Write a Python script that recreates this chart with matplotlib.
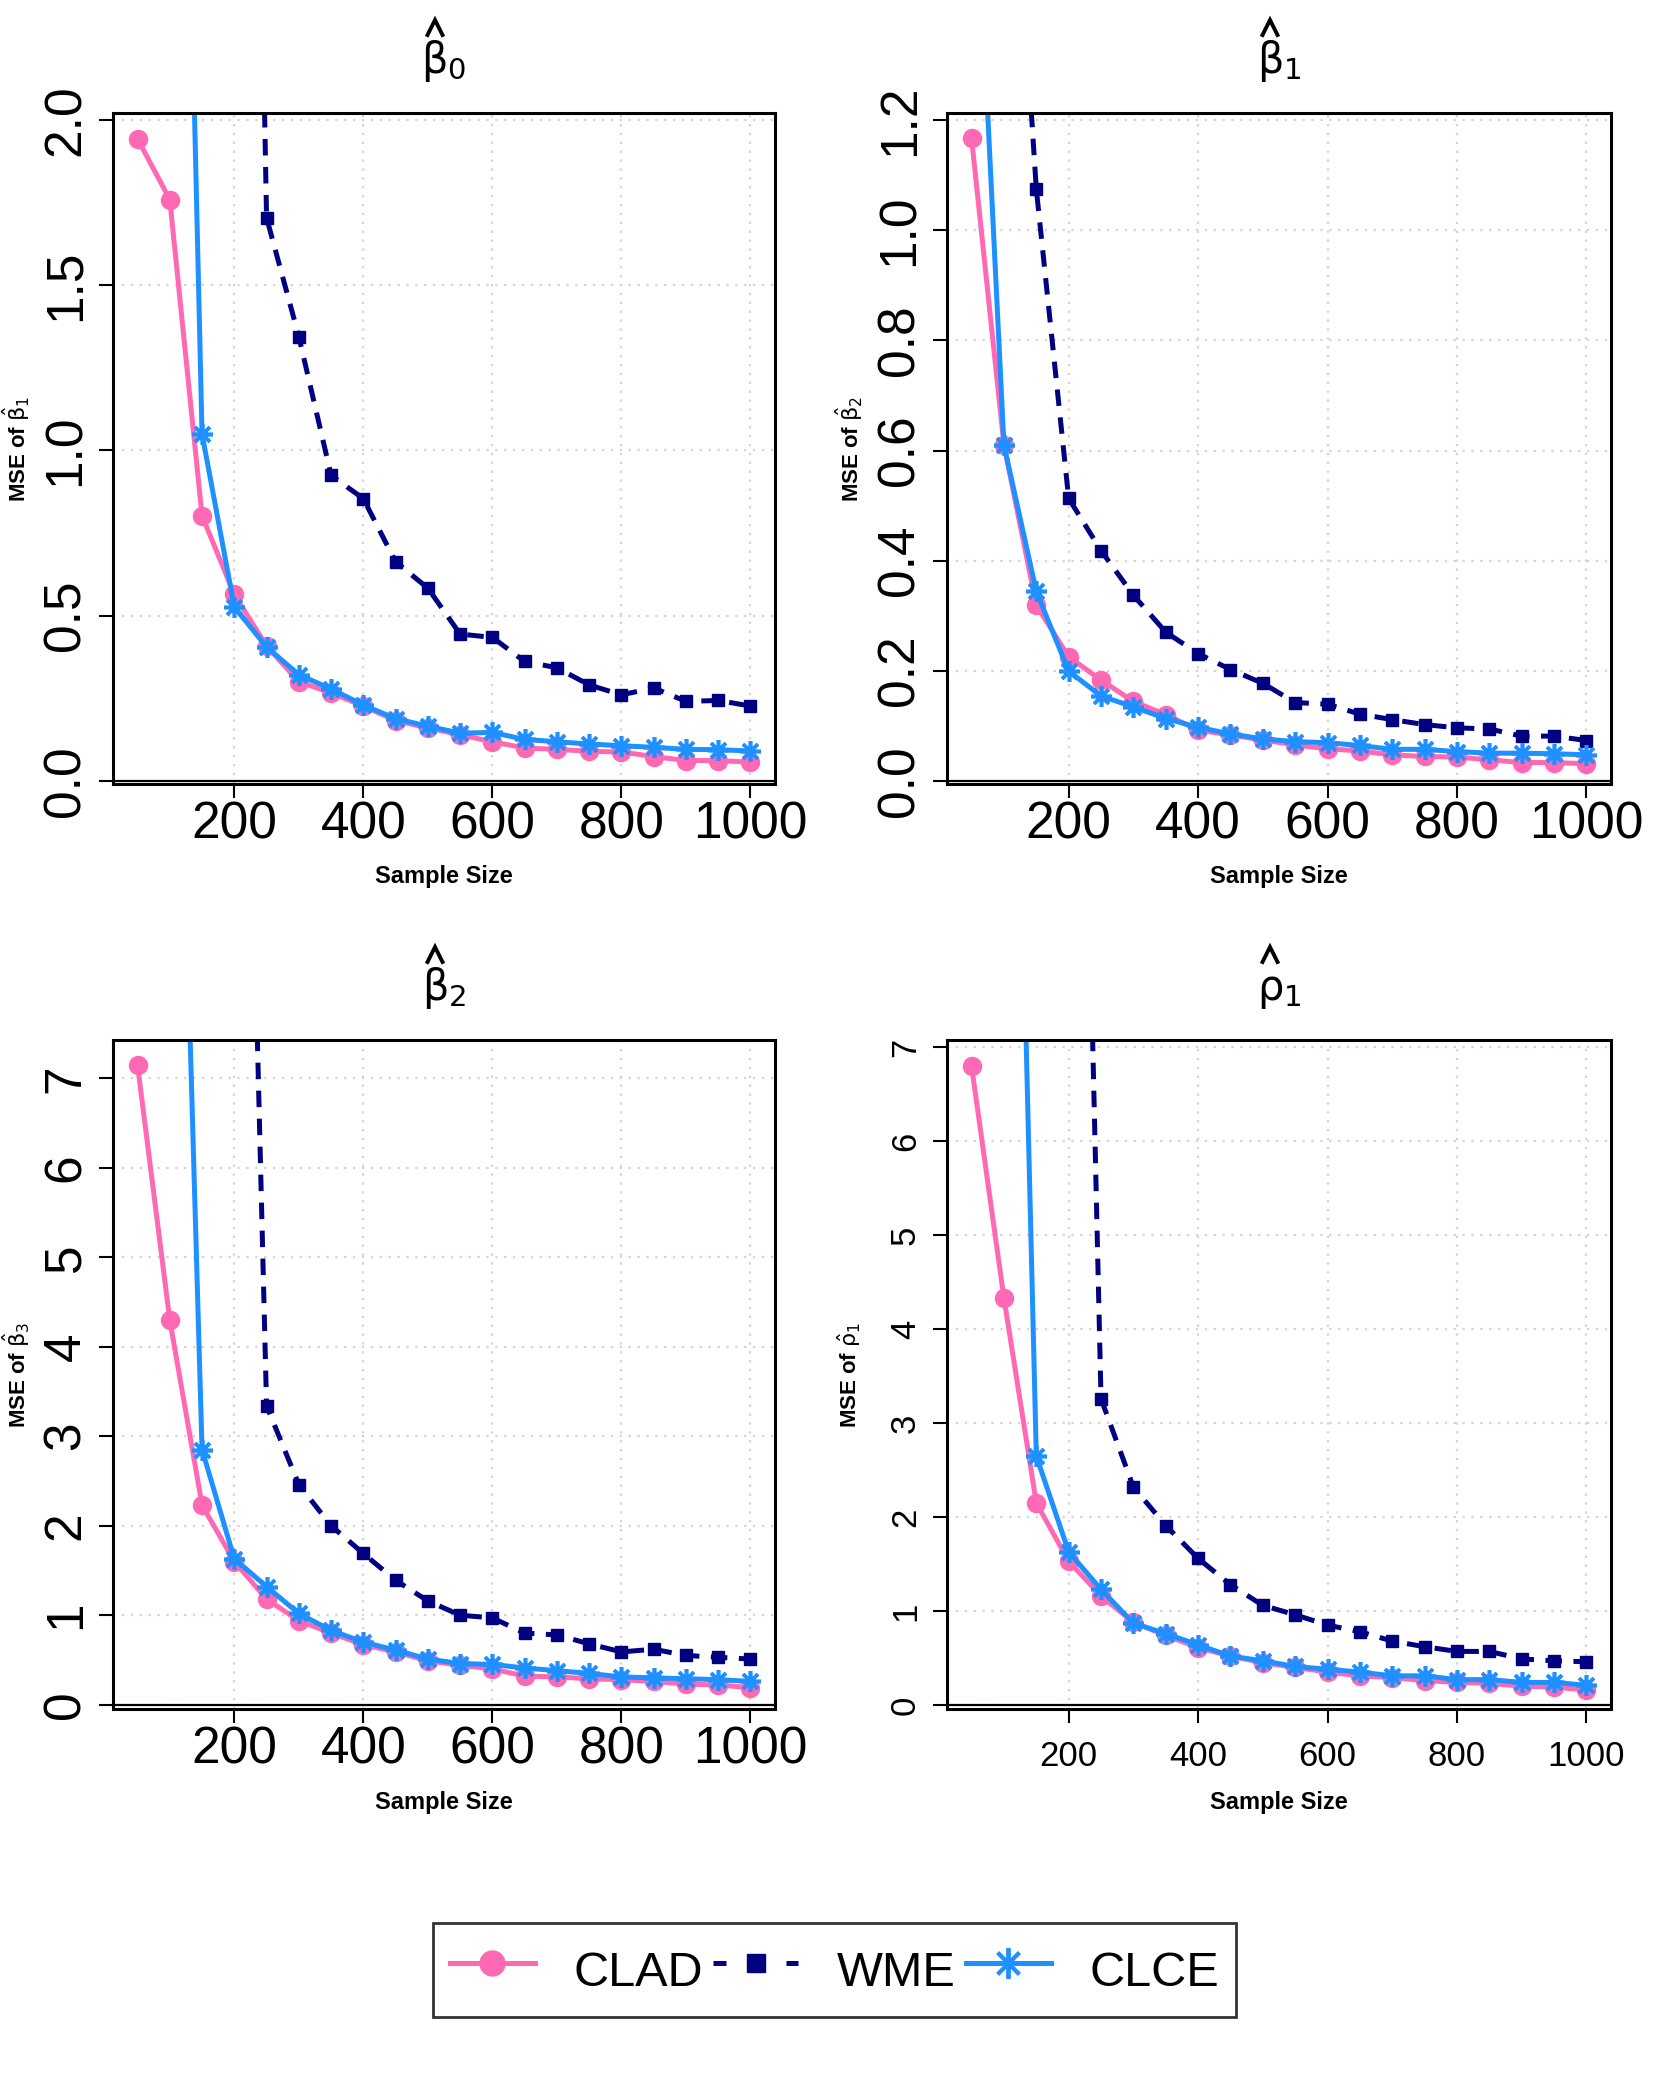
import matplotlib
matplotlib.use("Agg")
import matplotlib.pyplot as plt
from matplotlib.lines import Line2D
from matplotlib.transforms import ScaledTranslation

plt.rcParams['font.family'] = ['Liberation Sans', 'DejaVu Sans']
plt.rcParams['mathtext.fontset'] = 'dejavusans'

# sample sizes
n = [50, 100, 150, 200, 250, 300, 350, 400, 450, 500,
     550, 600, 650, 700, 750, 800, 850, 900, 950, 1000]

# beta0 panel
clad_b0 = [1.944, 1.760, 0.802, 0.564, 0.408, 0.300, 0.266, 0.226, 0.182, 0.160,
           0.139, 0.118, 0.099, 0.095, 0.089, 0.087, 0.073, 0.061, 0.061, 0.056]
wme_b0 = [40.0, 20.0, 12.0, 6.9, 1.705, 1.345, 0.925, 0.854, 0.663, 0.583,
          0.444, 0.434, 0.361, 0.342, 0.290, 0.260, 0.281, 0.240, 0.243, 0.226]
clce_b0 = [9.0, 5.2, 1.050, 0.526, 0.405, 0.321, 0.278, 0.229, 0.188, 0.165,
           0.144, 0.146, 0.125, 0.118, 0.111, 0.106, 0.101, 0.095, 0.094, 0.090]

# beta1 panel
clad_b1 = [1.167, 0.610, 0.319, 0.225, 0.183, 0.144, 0.120, 0.092, 0.083, 0.074,
           0.065, 0.058, 0.054, 0.047, 0.044, 0.043, 0.038, 0.033, 0.033, 0.031]
wme_b1 = [4.0, 1.98, 1.075, 0.513, 0.418, 0.337, 0.270, 0.231, 0.202, 0.177,
          0.142, 0.139, 0.121, 0.111, 0.102, 0.096, 0.094, 0.081, 0.081, 0.073]
clce_b1 = [1.81, 0.610, 0.344, 0.199, 0.154, 0.134, 0.113, 0.097, 0.085, 0.076,
           0.071, 0.069, 0.064, 0.057, 0.057, 0.053, 0.050, 0.050, 0.049, 0.047]

# beta2 panel
clad_b2 = [7.15, 4.30, 2.23, 1.60, 1.18, 0.94, 0.80, 0.67, 0.59, 0.49,
           0.44, 0.40, 0.32, 0.31, 0.29, 0.28, 0.26, 0.23, 0.22, 0.19]
wme_b2 = [100.0, 60.0, 35.0, 17.7, 3.34, 2.46, 2.00, 1.69, 1.39, 1.16,
          1.00, 0.97, 0.80, 0.78, 0.68, 0.59, 0.62, 0.55, 0.53, 0.51]
clce_b2 = [30.0, 15.3, 2.85, 1.63, 1.32, 1.02, 0.83, 0.70, 0.61, 0.51,
           0.46, 0.45, 0.41, 0.38, 0.35, 0.31, 0.30, 0.29, 0.28, 0.26]

# rho1 panel
clad_r1 = [6.80, 4.33, 2.15, 1.53, 1.16, 0.88, 0.74, 0.61, 0.52, 0.45,
           0.40, 0.35, 0.31, 0.29, 0.26, 0.24, 0.23, 0.20, 0.19, 0.16]
wme_r1 = [100.0, 60.0, 35.0, 18.0, 3.26, 2.32, 1.91, 1.56, 1.28, 1.06,
          0.96, 0.85, 0.78, 0.68, 0.62, 0.57, 0.57, 0.49, 0.47, 0.46]
clce_r1 = [30.0, 16.7, 2.65, 1.63, 1.23, 0.87, 0.76, 0.64, 0.52, 0.47,
           0.41, 0.38, 0.35, 0.31, 0.31, 0.27, 0.27, 0.24, 0.24, 0.21]

xticks = [200, 400, 600, 800, 1000]
yticks_b0 = [0.0, 0.5, 1.0, 1.5, 2.0]
yticks_b1 = [0.0, 0.2, 0.4, 0.6, 0.8, 1.0, 1.2]
yticks_big = [0, 1, 2, 3, 4, 5, 6, 7]

W, H = 1669, 2086
fig = plt.figure(figsize=(W / 100, H / 100), dpi=100)

PINK, NAVY, BLUE = 'hotpink', 'navy', 'dodgerblue'


def panel(box, clad, wme, clce, yticks, ylabels, ylim, title, ylab, ylab_x, fs, xpad, ypad):
    left, top, right, bottom = box
    ax = fig.add_axes([left / W, 1 - bottom / H, (right - left) / W, (bottom - top) / H])
    ax.set_xlim(12, 1038)
    ax.set_ylim(*ylim)
    ax.set_xticks(xticks)
    ax.set_yticks(yticks)
    ax.set_yticklabels(ylabels)
    ax.grid(True, color='lightgray', linestyle=(0, (1, 3)), linewidth=1.6)
    ax.set_axisbelow(True)
    ax.axhline(0, color='black', lw=1.6, zorder=1.5)
    ax.plot(n, clad, color=PINK, lw=3.6, marker='o', ms=13, label='CLAD')
    ax.plot(n, wme, color=NAVY, lw=3.6, ls=(0, (3.3, 2.3)), marker='s', ms=9, label='WME')
    ax.plot(n, clce, color=BLUE, lw=3.6, marker=(8, 2, 0), ms=15, mew=2.6, label='CLCE')
    for s in ax.spines.values():
        s.set_linewidth(2.2)
    ax.tick_params(length=10, width=1.5, labelsize=fs)
    ax.tick_params(axis='x', pad=xpad)
    ax.tick_params(axis='y', pad=ypad, labelrotation=90)
    for lab in ax.get_yticklabels():
        lab.set_verticalalignment('center')
    # title: greek letter with subscript, hat drawn as a caret above the letter
    ty = 1 + 40 / (bottom - top)
    ax.text(0.5, ty, title, transform=ax.transAxes,
            ha='center', va='baseline', fontsize=30)
    hat_tr = fig.dpi_scale_trans + ScaledTranslation(0.5, ty, ax.transAxes)
    ax.add_line(Line2D([-0.165, -0.09, -0.015], [0.38, 0.53, 0.38], transform=hat_tr,
                       color='black', lw=2.8, solid_joinstyle='miter', clip_on=False))
    fig.text(ylab_x / W, 1 - (top + bottom) / 2 / H, ylab, rotation=90,
             ha='center', va='center', fontsize=16, fontweight='bold')
    fig.text((left + right) / 2 / W, 1 - (bottom + 93) / H, 'Sample Size',
             ha='center', va='center', fontsize=17, fontweight='bold')
    return ax


ax1 = panel((113, 113, 775, 784), clad_b0, wme_b0, clce_b0, yticks_b0,
            ['0.0', '0.5', '1.0', '1.5', '2.0'], (-0.010, 2.022),
            r'$\mathrm{\beta}_0$', r'MSE of $\hat{\mathrm{\beta}}_1$', 16, 37, 2, 6)
ax2 = panel((947, 113, 1611, 784), clad_b1, wme_b1, clce_b1, yticks_b1,
            ['0.0', '0.2', '0.4', '0.6', '0.8', '1.0', '1.2'], (-0.006, 1.2133),
            r'$\mathrm{\beta}_1$', r'MSE of $\hat{\mathrm{\beta}}_2$', 849, 37, 2, 6)
ax3 = panel((113, 1040, 775, 1709), clad_b2, wme_b2, clce_b2, yticks_big,
            [str(v) for v in yticks_big], (-0.048, 7.428),
            r'$\mathrm{\beta}_2$', r'MSE of $\hat{\mathrm{\beta}}_3$', 16, 37, 2, 6)
ax4 = panel((947, 1040, 1611, 1709), clad_r1, wme_r1, clce_r1, yticks_big,
            [str(v) for v in yticks_big], (-0.043, 7.079),
            r'$\mathrm{\rho}_1$', r'MSE of $\hat{\mathrm{\rho}}_1$', 849, 25, 12, 8)

handles = [
    Line2D([], [], color=PINK, lw=3.6, marker='o', ms=18),
    Line2D([], [], color=NAVY, lw=3.6, ls=(0, (2.6, 4.7)), marker='s', ms=13),
    Line2D([], [], color=BLUE, lw=3.6, marker=(8, 2, 0), ms=22, mew=2.8),
]
leg = fig.legend(handles, ['CLAD', 'WME', 'CLCE'], loc='center',
                 bbox_to_anchor=(0.5, 1 - 1970 / H),
                 ncol=3, fontsize=35, frameon=True, fancybox=False, edgecolor='black',
                 handlelength=1.75, handletextpad=0.8, columnspacing=0.2,
                 borderpad=0.35, handleheight=1.5)
leg.get_frame().set_linewidth(2.0)

fig.savefig('out.png', dpi=100, facecolor='white')
